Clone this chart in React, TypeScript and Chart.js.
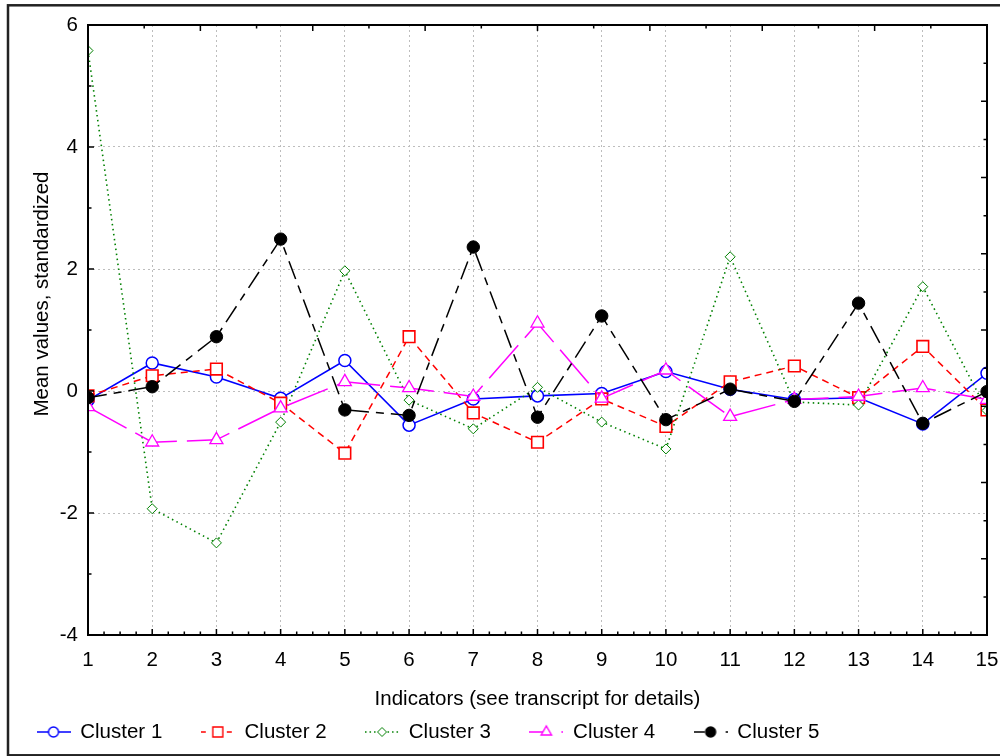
import React, { useEffect, useRef } from 'react';
import { Chart, registerables } from 'chart.js';

Chart.register(...registerables);

// ---- data ----
const indicators = [1, 2, 3, 4, 5, 6, 7, 8, 9, 10, 11, 12, 13, 14, 15];
const xTickLabels = ['1', '2', '3', '4', '5', '6', '7', '8', '9', '10', '11', '12', '13', '14', '15'];
const seriesNames = ['Cluster 1', 'Cluster 2', 'Cluster 3', 'Cluster 4', 'Cluster 5'];
const cluster1 = [-0.15, 0.46, 0.23, -0.12, 0.5, -0.56, -0.13, -0.08, -0.04, 0.32, 0.03, -0.14, -0.11, -0.54, 0.29];
const cluster2 = [-0.08, 0.25, 0.36, -0.2, -1.02, 0.89, -0.36, -0.84, -0.13, -0.58, 0.15, 0.41, -0.11, 0.73, -0.31];
const cluster3 = [5.58, -1.93, -2.49, -0.51, 1.97, -0.15, -0.62, 0.06, -0.51, -0.95, 2.2, -0.18, -0.23, 1.71, -0.32];
const cluster4 = [-0.26, -0.84, -0.8, -0.28, 0.15, 0.05, -0.09, 1.11, -0.12, 0.34, -0.42, -0.14, -0.09, 0.05, -0.14];
const cluster5 = [-0.11, 0.07, 0.89, 2.49, -0.31, -0.4, 2.36, -0.43, 1.23, -0.47, 0.03, -0.17, 1.44, -0.53, -0.01];
const yMin = -4;
const yMax = 6;
const yStep = 2;
const xTitle = 'Indicators (see transcript for details)';
const yTitle = 'Mean values, standardized';

const FONT = "'Liberation Sans', Arial, Helvetica, sans-serif";
const FS = 20.5;

const seriesValues = [cluster1, cluster2, cluster3, cluster4, cluster5];

const styles = [
  { color: '#0000ff', dash: [] as number[], width: 1.6, pointStyle: 'circle', radius: 6, fill: '#ffffff', pbw: 1.5 },
  { color: '#ff0000', dash: [7, 5], width: 1.5, pointStyle: 'rect', radius: 8.2, fill: '#ffffff', pbw: 1.6 },
  { color: '#008000', dash: [1.5, 3.5], width: 1.6, pointStyle: 'rectRot', radius: 5, fill: '#ffffff', pbw: 1 },
  { color: '#ff00ff', dash: [44, 10], width: 1.5, pointStyle: 'triangle', radius: 7.5, fill: '#ffffff', pbw: 1.3 },
  { color: '#000000', dash: [19, 7, 8, 7], width: 1.5, pointStyle: 'circle', radius: 6.2, fill: '#000000', pbw: 1 },
];

const legendDash = [[], [5, 21], [1.5, 3], [13, 19, 2, 10], [11, 21, 2, 10]];

function makeSample(i: number): HTMLCanvasElement {
  const c = document.createElement('canvas');
  c.width = 34;
  c.height = 16;
  const g = c.getContext('2d')!;
  const s = styles[i];
  g.strokeStyle = s.color;
  g.lineWidth = 1.5;
  g.setLineDash(legendDash[i]);
  g.beginPath();
  g.moveTo(0, 8);
  g.lineTo(34, 8);
  g.stroke();
  g.setLineDash([]);
  g.fillStyle = s.fill;
  g.lineWidth = i === 2 ? 1 : 1.4;
  const cx = 17;
  const cy = 8;
  g.beginPath();
  if (s.pointStyle === 'circle') {
    g.arc(cx, cy, 5, 0, Math.PI * 2);
  } else if (s.pointStyle === 'rect') {
    g.rect(cx - 5, cy - 5, 10, 10);
  } else if (s.pointStyle === 'rectRot') {
    g.moveTo(cx, cy - 4.5);
    g.lineTo(cx + 4.5, cy);
    g.lineTo(cx, cy + 4.5);
    g.lineTo(cx - 4.5, cy);
    g.closePath();
  } else {
    const r = 6;
    g.moveTo(cx, cy - r);
    g.lineTo(cx + r * 0.866, cy + r * 0.5);
    g.lineTo(cx - r * 0.866, cy + r * 0.5);
    g.closePath();
  }
  g.fill();
  g.stroke();
  return c;
}

const decorPlugin = {
  id: 'decor',
  afterDatasetsDraw(chart: any) {
    const { ctx, chartArea: a, scales } = chart;
    const xs = scales.x;
    const ys = scales.y;
    ctx.save();
    ctx.setLineDash([]);
    ctx.strokeStyle = '#000';
    ctx.lineWidth = 1.5;
    ctx.beginPath();
    // bottom axis ticks (inward)
    for (let k = 0; k <= (15 - 1) * 4; k++) {
      const v = 1 + k / 4;
      const px = xs.getPixelForValue(v);
      const len = k % 4 === 0 ? 6 : 3.5;
      ctx.moveTo(px, a.bottom);
      ctx.lineTo(px, a.bottom - len);
    }
    // left axis ticks (inward)
    for (let v = yMin; v <= yMax; v += 1) {
      const py = ys.getPixelForValue(v);
      const len = v % 2 === 0 ? 6 : 3.5;
      ctx.moveTo(a.left, py);
      ctx.lineTo(a.left + len, py);
    }
    // top and right ticks
    for (let i = 1; i < 16; i++) {
      const len = i % 2 === 0 ? 6 : 3.5;
      const px = a.left + ((a.right - a.left) * i) / 16;
      ctx.moveTo(px, a.top);
      ctx.lineTo(px, a.top + len);
      const py = a.top + ((a.bottom - a.top) * i) / 16;
      ctx.moveTo(a.right, py);
      ctx.lineTo(a.right - len, py);
    }
    ctx.stroke();
    // plot frame
    ctx.lineWidth = 2;
    ctx.strokeRect(a.left, a.top, a.right - a.left, a.bottom - a.top);
    ctx.restore();
  },
  afterDraw(chart: any) {
    const { ctx, chartArea: a } = chart;
    ctx.save();
    // outer frame
    ctx.strokeStyle = '#222';
    ctx.lineWidth = 2.5;
    ctx.setLineDash([]);
    ctx.strokeRect(8, 5.3, 1010, 750);
    // axis titles
    ctx.fillStyle = '#000';
    ctx.font = `${FS}px ${FONT}`;
    ctx.textAlign = 'center';
    ctx.textBaseline = 'middle';
    ctx.fillText(xTitle, (a.left + a.right) / 2, 699);
    ctx.translate(42, 294);
    ctx.rotate(-Math.PI / 2);
    ctx.fillText(yTitle, 0, 0);
    ctx.restore();
  },
};

export default function App() {
  const ref = useRef<HTMLCanvasElement | null>(null);
  useEffect(() => {
    if (!ref.current) return;
    const samples = styles.map((_, i) => makeSample(i));
    const datasets = seriesValues.map((vals, i) => {
      const s = styles[i];
      return {
        label: seriesNames[i],
        data: indicators.map((x, j) => ({ x, y: vals[j] })),
        borderColor: s.color,
        borderWidth: s.width,
        borderDash: s.dash,
        borderCapStyle: 'butt',
        backgroundColor: s.fill,
        pointStyle: s.pointStyle,
        pointRadius: s.radius,
        pointHoverRadius: s.radius,
        pointBackgroundColor: s.fill,
        pointBorderColor: s.color,
        pointBorderWidth: s.pbw,
        tension: 0,
        fill: false,
        clip: 0,
        order: 4 - i,
      };
    });
    const chart = new Chart(ref.current, {
      type: 'line',
      data: { datasets } as any,
      plugins: [decorPlugin],
      options: {
        responsive: false,
        animation: false,
        events: [],
        layout: { padding: { left: -2, right: 13, top: 25, bottom: 3.75 } },
        plugins: {
          tooltip: { enabled: false },
          legend: {
            position: 'bottom',
            align: 'start',
            labels: {
              usePointStyle: true,
              pointStyleWidth: 33,
              padding: 39,
              color: '#000',
              font: { size: FS, family: FONT },
              generateLabels: (c: any) =>
                c.data.datasets.map((ds: any, i: number) => ({
                  text: ds.label,
                  pointStyle: samples[i],
                  fillStyle: 'rgba(0,0,0,0)',
                  strokeStyle: 'rgba(0,0,0,0)',
                  lineWidth: 0,
                  hidden: false,
                  datasetIndex: i,
                  fontColor: '#000',
                })),
            },
          },
        },
        scales: {
          x: {
            type: 'linear',
            min: indicators[0],
            max: indicators[indicators.length - 1],
            afterFit: (s: any) => {
              s.height = 47.75;
              s.paddingLeft = 0;
              s.paddingRight = 0;
            },
            ticks: {
              stepSize: 1,
              padding: 13,
              autoSkip: false,
              maxRotation: 0,
              color: '#000',
              font: { size: FS, family: FONT },
              callback: (v: any) => {
                const idx = indicators.indexOf(Number(v));
                return idx >= 0 ? xTickLabels[idx] : '';
              },
            },
            grid: { color: '#bdbdbd', lineWidth: 1, drawTicks: false },
            border: { display: false, dash: [2, 3] },
          },
          y: {
            type: 'linear',
            min: yMin,
            max: yMax,
            afterFit: (s: any) => {
              s.width = 90;
            },
            ticks: {
              stepSize: yStep,
              padding: 10,
              color: '#000',
              font: { size: FS, family: FONT },
            },
            grid: { color: '#bdbdbd', lineWidth: 1, drawTicks: false },
            border: { display: false, dash: [2, 3] },
          },
        },
      } as any,
    });
    return () => chart.destroy();
  }, []);
  return (
    <div style={{ position: 'absolute', left: 0, top: 0, width: 1000, height: 756, background: '#fff' }}>
      <canvas ref={ref} width={1000} height={756} />
    </div>
  );
}
